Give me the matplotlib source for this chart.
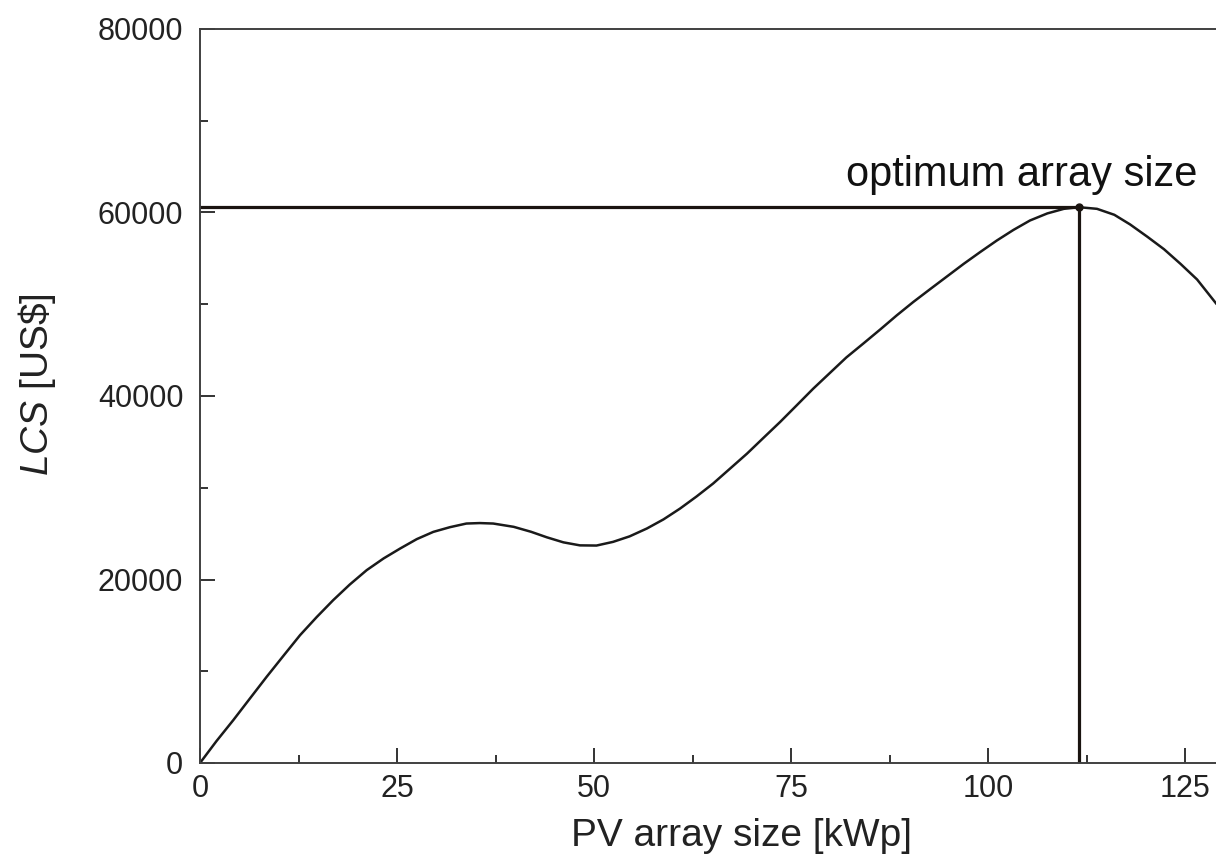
import matplotlib
matplotlib.use("Agg")
import matplotlib.pyplot as plt
from matplotlib.ticker import MultipleLocator

# values
pv_size = [0, 2.1, 4.23, 6.35, 8.46, 10.6, 12.7, 14.8, 16.9, 19.0, 21.15,
           23.3, 25.4, 27.5, 29.6, 31.7, 33.8, 35.5, 37.2, 39.8, 42.0, 44.0,
           46.1, 48.2, 50.3, 52.4, 54.5, 56.7, 58.8, 60.9, 63.0, 65.1, 67.2,
           69.4, 71.5, 73.6, 75.7, 77.8, 79.9, 82.0, 84.2, 86.3, 88.4, 90.5,
           92.7, 94.8, 96.9, 99.0, 101.1, 103.2, 105.3, 107.5, 109.6, 111.5,
           113.8, 116.0, 118.0, 120.2, 122.3, 124.4, 126.5, 128.9]
lcs = [0, 2400, 4680, 7050, 9400, 11700, 13940, 15900, 17750, 19450, 21020,
       22300, 23380, 24400, 25190, 25700, 26100, 26150, 26100, 25740, 25200,
       24600, 24050, 23720, 23700, 24100, 24700, 25560, 26550, 27730, 29050,
       30460, 32050, 33720, 35450, 37170, 38980, 40800, 42500, 44200, 45750,
       47250, 48790, 50250, 51690, 53050, 54410, 55700, 56950, 58100, 59130,
       59900, 60400, 60580, 60400, 59750, 58700, 57350, 56000, 54400, 52700,
       50100]
opt_size = 111.5
opt_lcs = 60580

xticks = [0, 25, 50, 75, 100, 125]
yticks = [0, 20000, 40000, 60000, 80000]

plt.rcParams['font.family'] = ['Liberation Sans', 'DejaVu Sans']
plt.rcParams['mathtext.fontset'] = 'custom'
plt.rcParams['mathtext.it'] = 'Liberation Sans:italic'
plt.rcParams['mathtext.rm'] = 'Liberation Sans'

fig = plt.figure(figsize=(12.16, 8.67), dpi=100)
ax = fig.add_axes([200 / 1216, 1 - 763 / 867, 1016 / 1216, 734 / 867])

ax.plot(pv_size, lcs, color='#1a1a1a', lw=1.8, solid_joinstyle='round')
ax.plot([0, opt_size], [opt_lcs, opt_lcs], color='#1a1410', lw=2.3)
ax.plot([opt_size, opt_size], [0, opt_lcs], color='#1a1410', lw=2.3)
ax.plot([opt_size], [opt_lcs], 'o', color='#1a1410', ms=5)
ax.text(81.9, 62900, "optimum array size", fontsize=30, ha='left',
        va='baseline', color='#111111')

ax.set_xlim(0, 128.9)
ax.set_ylim(0, 80000)
ax.set_xticks(xticks)
ax.set_yticks(yticks)
ax.xaxis.set_minor_locator(MultipleLocator(12.5))
ax.yaxis.set_minor_locator(MultipleLocator(10000))
ax.tick_params(which='both', direction='in', top=False, right=False,
               colors='#333333', labelcolor='#222222', width=1.4)
ax.tick_params(which='major', length=11, labelsize=22)
ax.tick_params(axis='x', which='major', pad=8)
ax.tick_params(axis='y', which='major', pad=12)
ax.tick_params(which='minor', length=6)

for s in ['left', 'bottom', 'top']:
    ax.spines[s].set_color('#404040')
    ax.spines[s].set_linewidth(1.4)
ax.spines['right'].set_visible(False)

ax.set_xlabel("PV array size [kWp]", fontsize=28, color='#222222')
ax.set_ylabel(r"$\mathit{LCS}$ [US\$]", fontsize=28, color='#222222')
ax.xaxis.set_label_coords(0.533, -0.075)
ax.yaxis.set_label_coords(-0.14, 0.515)

fig.savefig("out.png", dpi=100)
